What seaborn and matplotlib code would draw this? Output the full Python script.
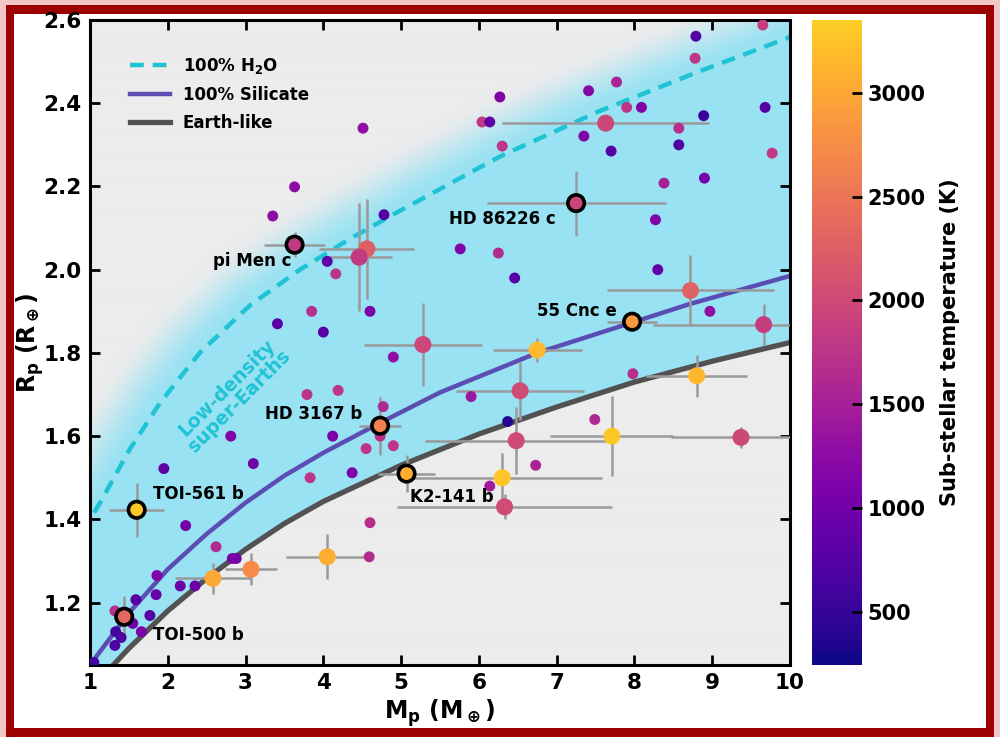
import numpy as np
import pandas as pd
import matplotlib
matplotlib.use("Agg")
import matplotlib.pyplot as plt
import seaborn as sns
from matplotlib.colors import ListedColormap, Normalize, to_rgb
from matplotlib.cm import ScalarMappable
from matplotlib.lines import Line2D
from matplotlib.patches import Rectangle

# ---------------- model curves ----------------
h2o_mass = [0.9, 1.0, 1.13, 1.5, 1.9, 2.41, 3.06, 3.7, 4.34, 4.98, 6.27, 7.55, 8.84, 10.0, 10.2]
h2o_radius = [1.37, 1.40, 1.44, 1.565, 1.68, 1.80, 1.915, 2.0, 2.074, 2.141, 2.272, 2.381, 2.477, 2.559, 2.57]

sil_mass = [1.0, 1.5, 2.0, 2.5, 3.0, 3.5, 4.0, 4.73, 5.5, 6.75, 7.97, 8.72, 10.0]
sil_radius = [1.05, 1.175, 1.28, 1.365, 1.44, 1.505, 1.56, 1.632, 1.705, 1.80, 1.873, 1.918, 1.985]

earth_mass = [1.0, 1.3, 1.5, 2.0, 2.5, 3.0, 3.5, 4.0, 5.0, 6.0, 7.0, 8.0, 9.0, 10.0]
earth_radius = [0.99, 1.05, 1.09, 1.18, 1.258, 1.328, 1.39, 1.443, 1.53, 1.605, 1.67, 1.73, 1.78, 1.825]

# ---------------- planets without error bars ----------------
small_mass = [9.65, 8.79, 8.78, 7.77, 7.41, 6.27, 7.90, 8.09, 9.68, 8.89, 6.04, 6.14, 8.57, 7.35,
              6.30, 7.70, 8.57, 9.77, 8.38, 8.90, 8.27, 4.51, 3.63, 3.35, 4.78, 5.76, 6.25, 4.05,
              4.16, 6.46, 8.30, 4.60, 3.85, 3.41, 4.00, 8.97, 4.90, 3.79, 4.19, 4.77, 5.90, 7.98,
              6.37, 7.49, 2.81, 4.12, 4.73, 4.55, 4.90, 1.95, 3.10, 3.83, 4.37, 6.73, 6.14, 2.23,
              4.60, 2.62, 2.83, 2.88, 4.59, 1.86, 2.16, 2.35, 1.59, 1.85, 1.77, 1.32, 1.55, 1.66,
              1.33, 1.40, 1.32, 1.05]
small_radius = [2.588, 2.561, 2.508, 2.451, 2.430, 2.415, 2.390, 2.390, 2.390, 2.370, 2.355, 2.355,
                2.340, 2.321, 2.297, 2.285, 2.300, 2.280, 2.208, 2.220, 2.120, 2.340, 2.199, 2.129,
                2.132, 2.050, 2.040, 2.020, 1.990, 1.980, 2.000, 1.900, 1.900, 1.870, 1.850, 1.900,
                1.790, 1.700, 1.710, 1.671, 1.695, 1.750, 1.635, 1.640, 1.600, 1.600, 1.600, 1.570,
                1.577, 1.522, 1.534, 1.500, 1.512, 1.530, 1.480, 1.385, 1.392, 1.334, 1.306, 1.306,
                1.310, 1.265, 1.240, 1.240, 1.207, 1.219, 1.169, 1.180, 1.150, 1.130, 1.130, 1.116,
                1.097, 1.056]
small_temp = [1850, 750, 1750, 1550, 1200, 1150, 1750, 1150, 750, 550, 1800, 850, 1700, 1150,
              1750, 750, 700, 1800, 1500, 1050, 1150, 1300, 1250, 1250, 750, 1150, 1650, 850,
              1750, 800, 900, 1100, 1700, 800, 800, 1300, 1300, 1750, 1750, 1600, 1400, 1700,
              400, 1600, 1150, 1100, 1700, 1750, 1750, 850, 1000, 1750, 1100, 1550, 1450, 1000,
              1700, 1650, 1050, 1050, 1650, 1150, 950, 950, 800, 900, 750, 1700, 950, 1100,
              600, 700, 700, 600]

# ---------------- planets with error bars ----------------
err_mass = [7.63, 4.56, 4.46, 5.28, 8.72, 9.66, 6.75, 6.53, 8.80, 6.48, 7.71, 9.37, 6.30, 6.33,
            2.58, 3.07, 4.05]
err_radius = [2.352, 2.050, 2.030, 1.820, 1.950, 1.868, 1.807, 1.709, 1.745, 1.589, 1.600, 1.597,
              1.500, 1.430, 1.258, 1.280, 1.310]
err_temp = [1970, 2250, 1830, 1970, 2300, 1870, 3180, 2040, 3150, 2020, 3280, 1980, 3260, 2040,
            3000, 2730, 3070]
err_mass_unc = [1.33, 0.61, 0.42, 0.76, 1.07, 1.42, 0.57, 0.82, 0.65, 1.17, 0.79, 0.90, 1.28, 1.38,
                0.49, 0.34, 0.53]
err_radius_unc = [0.01, 0.12, 0.13, 0.10, 0.085, 0.05, 0.03, 0.07, 0.05, 0.08, 0.097, 0.025, 0.06,
                  0.03, 0.037, 0.038, 0.054]

# ---------------- highlighted planets ----------------
hl_names = ["pi Men c", "HD 86226 c", "55 Cnc e", "HD 3167 b", "K2-141 b", "TOI-561 b", "TOI-500 b"]
hl_mass = [3.63, 7.25, 7.97, 4.73, 5.07, 1.60, 1.44]
hl_radius = [2.060, 2.160, 1.875, 1.625, 1.510, 1.423, 1.166]
hl_temp = [1800, 1970, 2870, 2625, 3070, 3280, 2350]
hl_mass_unc = [0.39, 1.15, 0.32, 0.27, 0.37, 0.35, 0.08]
hl_radius_unc = [0.03, 0.078, 0.01, 0.07, 0.045, 0.065, 0.05]

x_ticks = [1, 2, 3, 4, 5, 6, 7, 8, 9, 10]
y_ticks = [1.2, 1.4, 1.6, 1.8, 2.0, 2.2, 2.4, 2.6]
cbar_ticks = [500, 1000, 1500, 2000, 2500, 3000]
t_min, t_max = 245, 3350

# label placement (offset in pixels from the point, alignment)
label_style = {
    "pi Men c": (-3, -16, "right"),
    "HD 86226 c": (-20, -16, "right"),
    "55 Cnc e": (-15, 11, "right"),
    "HD 3167 b": (-18, 12, "right"),
    "K2-141 b": (3, -23, "left"),
    "TOI-561 b": (16, 16, "left"),
    "TOI-500 b": (29, -18, "left"),
}

# ---------------- figure ----------------
plt.rcParams["font.family"] = ["DejaVu Sans"]
plt.rcParams["font.weight"] = "bold"
plt.rcParams["axes.labelweight"] = "bold"

W, H = 1000, 737
fig = plt.figure(figsize=(W / 100, H / 100), dpi=100)
fig.patch.set_facecolor("#f2c6c6")
fig.patches.append(Rectangle((6 / W, 0), 988 / W, 732 / H, transform=fig.transFigure,
                             facecolor="#9c0000", edgecolor="none", zorder=-10))
fig.patches.append(Rectangle((14 / W, 9 / H), 972 / W, 714 / H, transform=fig.transFigure,
                             facecolor="white", edgecolor="none", zorder=-9))

ax = fig.add_axes([90 / W, 72 / H, 700 / W, 645 / H])
cax = fig.add_axes([812 / W, 72 / H, 50 / W, 645 / H])

xlo, xhi, ylo, yhi = 1.0, 10.0, 1.05, 2.6

# background: cyan region between Earth-like and water curves, fading above the water curve
nx, ny = 350, 323
gm = np.linspace(xlo, xhi, nx)
gr = np.linspace(ylo, yhi, ny)
MM, RR = np.meshgrid(gm, gr)
px_m = 700 / (xhi - xlo)
px_r = 645 / (yhi - ylo)
h2o_line = np.interp(gm, h2o_mass, h2o_radius)
earth_line = np.interp(gm, earth_mass, earth_radius)
cm_ = np.linspace(h2o_mass[0], h2o_mass[-1], 500)
cr_ = np.interp(cm_, h2o_mass, h2o_radius)
cx, cy = cm_ * px_m, cr_ * px_r
gx, gy = MM.ravel() * px_m, RR.ravel() * px_r
dist = np.empty(gx.size)
step = 5000
for i in range(0, gx.size, step):
    ddx = gx[i:i + step, None] - cx[None, :]
    ddy = gy[i:i + step, None] - cy[None, :]
    dist[i:i + step] = np.sqrt(ddx ** 2 + ddy ** 2).min(axis=1)
dist = dist.reshape(MM.shape)
t = np.clip(dist / 62.0, 0, 1)
fade = 1 - (3 * t ** 2 - 2 * t ** 3)
alpha = np.where(RR < earth_line[None, :], 0.0, np.where(RR <= h2o_line[None, :], 1.0, fade))
gray = np.array(to_rgb("#ececec"))
cyan = np.array(to_rgb("#98e2f3"))
img = gray[None, None, :] * (1 - alpha[..., None]) + cyan[None, None, :] * alpha[..., None]
ax.imshow(img, extent=[xlo, xhi, ylo, yhi], origin="lower", aspect="auto",
          interpolation="bilinear", zorder=0)

# model curves
ax.plot(h2o_mass, h2o_radius, color="#1fc3d4", lw=3.2, ls=(0, (3.1, 2.0)), zorder=2)
ax.plot(sil_mass, sil_radius, color="#5a4db3", lw=3.2, zorder=2)
ax.plot(earth_mass, earth_radius, color="#525252", lw=3.8, zorder=2)

cmap = ListedColormap(plt.get_cmap("plasma")(np.linspace(0, 0.9, 256)))
norm = Normalize(t_min, t_max)

# error bars
ax.errorbar(err_mass, err_radius, xerr=err_mass_unc, yerr=err_radius_unc, fmt="none",
            ecolor="#9a9a9a", elinewidth=1.8, capsize=0, zorder=3)
ax.errorbar(hl_mass, hl_radius, xerr=hl_mass_unc, yerr=hl_radius_unc, fmt="none",
            ecolor="#9a9a9a", elinewidth=1.8, capsize=0, zorder=3)

df_small = pd.DataFrame({"M": small_mass, "R": small_radius, "T": small_temp})
df_err = pd.DataFrame({"M": err_mass, "R": err_radius, "T": err_temp})
df_hl = pd.DataFrame({"M": hl_mass, "R": hl_radius, "T": hl_temp})

sns.scatterplot(data=df_small, x="M", y="R", hue="T", palette=cmap, hue_norm=norm,
                s=62, edgecolor="none", legend=False, ax=ax, zorder=4)
sns.scatterplot(data=df_err, x="M", y="R", hue="T", palette=cmap, hue_norm=norm,
                s=150, edgecolor="none", legend=False, ax=ax, zorder=5)
sns.scatterplot(data=df_hl, x="M", y="R", hue="T", palette=cmap, hue_norm=norm,
                s=140, edgecolor="black", linewidth=2.6, legend=False, ax=ax, zorder=6)

for name, m, r in zip(hl_names, hl_mass, hl_radius):
    dx, dy, ha = label_style[name]
    ax.annotate(name, xy=(m, r), xytext=(dx, dy), textcoords="offset pixels",
                ha=ha, va="center", fontsize=12, fontweight="bold", color="black", zorder=7)

ax.text(2.84, 1.70, "Low-density\nsuper-Earths", color="#1fc3d4", fontsize=13.5,
        fontweight="bold", rotation=45, ha="center", va="center", rotation_mode="anchor",
        linespacing=1.0, zorder=2)

ax.set_xlim(xlo, xhi)
ax.set_ylim(ylo, yhi)
ax.set_xticks(x_ticks)
ax.set_yticks(y_ticks)
ax.set_yticklabels([f"{v:.1f}" for v in y_ticks])
ax.set_xlabel(r"$\mathbf{M_p\ (M_\oplus)}$", fontsize=17, labelpad=3)
ax.set_ylabel(r"$\mathbf{R_p\ (R_\oplus)}$", fontsize=17, labelpad=-2)
ax.tick_params(direction="in", length=7, width=2, top=True, right=True, labelsize=15.5, pad=6)
for lab in ax.get_xticklabels() + ax.get_yticklabels():
    lab.set_fontweight("bold")
for sp in ax.spines.values():
    sp.set_linewidth(2.2)

handles = [Line2D([], [], color="#1fc3d4", lw=3.2, ls=(0, (3.1, 2.0))),
           Line2D([], [], color="#5a4db3", lw=3.2),
           Line2D([], [], color="#525252", lw=3.8)]
leg = ax.legend(handles, [r"100% H$_\mathbf{2}$O", "100% Silicate", "Earth-like"],
                loc="upper left", bbox_to_anchor=(0.035, 0.967), frameon=False,
                prop={"size": 12, "weight": "bold"}, handlelength=2.4, labelspacing=0.6,
                handletextpad=0.8)

cb = fig.colorbar(ScalarMappable(norm=norm, cmap=cmap), cax=cax)
cb.set_ticks(cbar_ticks)
cb.outline.set_visible(False)
cb.ax.tick_params(direction="in", length=7, width=2, labelsize=15, pad=4)
for lab in cb.ax.get_yticklabels():
    lab.set_fontweight("bold")
cb.set_label("Sub-stellar temperature (K)", fontsize=15, fontweight="bold", labelpad=10)

fig.savefig("out.png", dpi=100, facecolor=fig.get_facecolor())
